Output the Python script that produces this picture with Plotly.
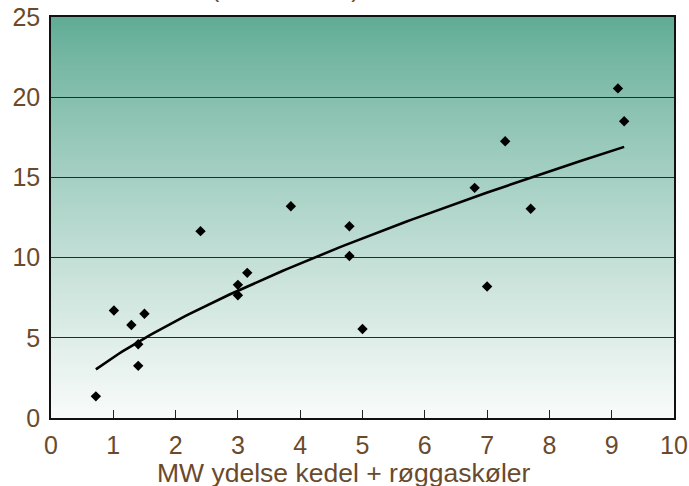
import numpy as np
import plotly.graph_objects as go

# Data
mw_output = [0.72, 1.01, 1.29, 1.40, 1.40, 1.50, 2.40, 3.00, 3.00, 3.15,
             3.85, 4.79, 4.79, 5.00, 6.80, 7.00, 7.29, 7.70, 9.10, 9.20]
cost_values = [1.35, 6.70, 5.80, 4.60, 3.25, 6.50, 11.65, 8.30, 7.65, 9.05,
               13.20, 11.95, 10.10, 5.55, 14.35, 8.20, 17.25, 13.05, 20.55, 18.50]
x_ticks = [0, 1, 2, 3, 4, 5, 6, 7, 8, 9, 10]
y_ticks = [0, 5, 10, 15, 20, 25]
x_title = "MW ydelse kedel + røggaskøler"
top_title = "(mio. kr./MW)"

# Power trendline (least squares in log space, as a spreadsheet trendline)
lx = np.log(np.array(mw_output))
ly = np.log(np.array(cost_values))
b, ln_a = np.polyfit(lx, ly, 1)
trend_x = np.linspace(min(mw_output), max(mw_output), 120)
trend_y = np.exp(ln_a) * trend_x ** b

TEXT = "#6b4a2c"
FONT = "Liberation Sans, Arial, sans-serif"

fig = go.Figure()
fig.add_trace(go.Scatter(x=mw_output, y=cost_values, mode="markers",
                         marker=dict(symbol="diamond", size=8, color="black"),
                         showlegend=False, hoverinfo="skip"))
fig.add_trace(go.Scatter(x=trend_x, y=trend_y, mode="lines",
                         line=dict(color="black", width=2.6),
                         showlegend=False, hoverinfo="skip"))

# vertical gradient background (teal top -> near white bottom)
top = np.array([94, 171, 148])
bot = np.array([249, 251, 250])
n = 160
shapes = []
for i in range(n):
    f = (i + 0.5) / n
    g = f ** 0.85
    c = top + (bot - top) * g
    shapes.append(dict(type="rect", xref="x domain", yref="y domain",
                       x0=0, x1=1, y0=max(0, 1 - (i + 1.6) / n), y1=1 - i / n,
                       fillcolor="rgb(%d,%d,%d)" % tuple(c.round()),
                       line=dict(width=0), layer="below"))

fig.update_layout(
    width=689, height=486,
    margin=dict(l=51, r=15, t=17, b=68, autoexpand=False),
    paper_bgcolor="white", plot_bgcolor="rgba(0,0,0,0)",
    shapes=shapes,
    font=dict(family=FONT, size=25, color=TEXT),
    xaxis=dict(range=[0, 10], tickvals=x_ticks, ticks="inside", ticklen=8,
               tickcolor="#222", tickwidth=1, showgrid=False, zeroline=False,
               showline=True, linecolor="#111", linewidth=1.5, mirror=True,
               automargin=False, ticklabeloverflow="allow",
               tickfont=dict(size=25, color=TEXT), ticklabelstandoff=4),
    yaxis=dict(range=[0, 25], tickvals=y_ticks, ticks="", showgrid=True,
               gridcolor="#2a2a2a", gridwidth=1, zeroline=False,
               showline=True, linecolor="#111", linewidth=1.5, mirror=True,
               automargin=False, ticklabeloverflow="allow",
               tickfont=dict(size=25, color=TEXT), ticklabelstandoff=4),
    annotations=[
        dict(text=x_title, xref="paper", yref="paper", x=0.470, y=0,
             yshift=-55, xanchor="center", yanchor="middle", showarrow=False,
             font=dict(size=26.5, color=TEXT)),
        dict(text=top_title, xref="paper", yref="paper", x=0.377, y=1.0,
             yshift=13, xanchor="center", yanchor="bottom", showarrow=False,
             font=dict(size=25, color=TEXT)),
    ],
)

fig.write_html("out.html",
               config={"displayModeBar": False},
               post_script="document.body.style.margin='0';"
                           "document.body.style.overflow='hidden';")
